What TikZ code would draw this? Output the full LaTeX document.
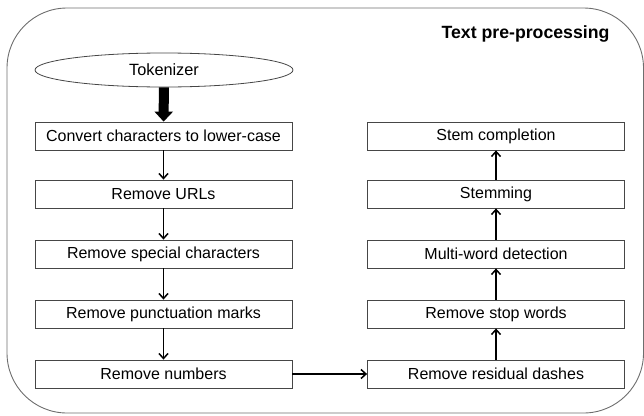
\documentclass[tikz,border=0pt]{standalone}
\usepackage{fontspec}
\setmainfont{Liberation Sans}
\usetikzlibrary{arrows.meta,shapes.geometric}

\begin{document}
\begin{tikzpicture}[x=1pt,y=-1pt,
    procbox/.style={draw=boxgray, line width=0.8pt, fill=white, minimum width=257pt,
      minimum height=28pt, inner sep=0pt, font=\fontsize{16}{19}\selectfont},
    flow/.style={-{Straight Barb[length=5pt,width=9pt]}, line width=1.5pt}]
    % Define colors
    \definecolor{framegray}{RGB}{110,110,110}
    \definecolor{boxgray}{RGB}{70,70,70}

    \useasboundingbox (0,0) rectangle (644,415);

    % --- Outer frame ---
    \draw[framegray, line width=0.9pt, rounded corners=60pt] (7,8) rectangle (643.5,413);
    \node[anchor=base east, font=\fontsize{17.7}{20}\selectfont\bfseries] (title) at (613,38) {Text pre-processing};

    % --- Tokenizer ---
    \node[ellipse, draw=boxgray, line width=0.8pt, minimum width=258pt, minimum height=34pt,
      inner sep=0pt, font=\fontsize{16.3}{19}\selectfont] (tok) at (164,70) {Tokenizer};

    % --- LEFT COLUMN (top to bottom) ---
    \foreach \n/\y/\t in {l1/136/Convert characters to lower-case, l2/194/Remove URLs,
        l3/254/Remove special characters, l4/314/Remove punctuation marks, l5/374/Remove numbers}
      \node[procbox] (\n) at (163.5,\y) {\t};

    % --- RIGHT COLUMN (bottom to top) ---
    \foreach \n/\y/\t in {r1/374/Remove residual dashes, r2/314/Remove stop words,
        r3/254/Multi-word detection, r4/194/Stemming, r5/136/Stem completion}
      \node[procbox] (\n) at (496,\y) {\t};

    % Arrows
    \draw[line width=10pt, -{Triangle[length=10pt,width=18pt]}] (tok) -- (l1);
    \foreach \a/\b in {l1/l2, l2/l3, l3/l4, l4/l5, l5/r1, r1/r2, r2/r3, r3/r4, r4/r5}
      \draw[flow] (\a) -- (\b);
\end{tikzpicture}
\end{document}
